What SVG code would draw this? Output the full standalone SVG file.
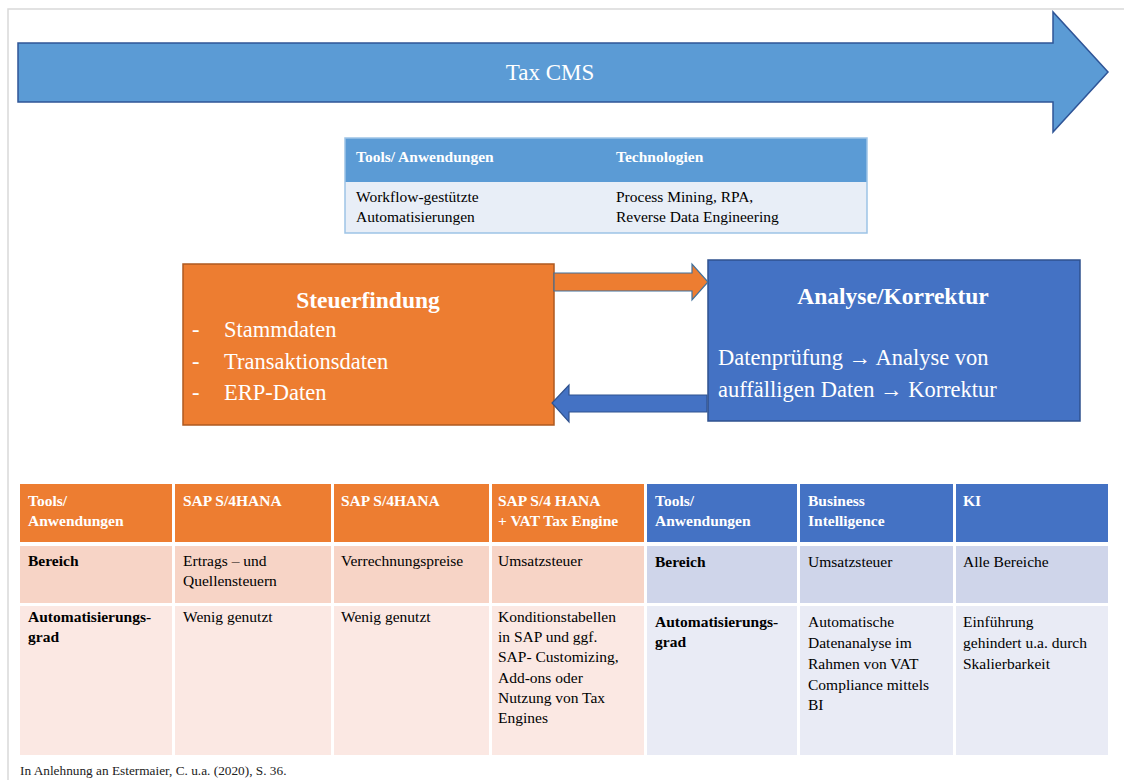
<svg xmlns="http://www.w3.org/2000/svg" width="1124" height="780" viewBox="0 0 1124 780" font-family="Liberation Serif, DejaVu Serif, serif">
<style>
text{font-family:'Liberation Serif','Times New Roman',serif;}
.w{fill:#ffffff;}
.b{font-weight:bold;}
.k{fill:#000000;}
.t14{font-size:15.5px;}
.oh{fill:#ed7d31;}
.o2{fill:#f7d4c6;}
.o3{fill:#fbe8e3;}
.bh{fill:#4472c4;}
.b2{fill:#cfd5ea;}
.b3{fill:#e9ebf5;}
</style>
<rect x="0" y="0" width="1124" height="780" fill="#ffffff"/>
<rect x="8" y="9" width="1130" height="800" fill="none" stroke="#d9d9d9" stroke-width="1.5"/>

<g id="taxcms">
<polygon points="18,43 1053,43 1053,12 1108,72 1053,132 1053,102 18,102" fill="#5b9bd5" stroke="#2f5597" stroke-width="1.5"/>
<text x="550" y="80" text-anchor="middle" class="w" font-size="23">Tax CMS</text>
</g>

<g id="top-table">
<rect x="345" y="138" width="522" height="44" fill="#5b9bd5"/>
<rect x="345" y="182" width="522" height="51" fill="#e8eef7"/>
<rect x="345" y="138" width="522" height="95" fill="none" stroke="#9dc3e6" stroke-width="1.5"/>
<text x="356" y="162" class="w b t14">Tools/ Anwendungen</text>
<text x="616" y="162" class="w b t14">Technologien</text>
<text x="356" y="202" class="k t14">Workflow-gestützte</text>
<text x="356" y="222" class="k t14">Automatisierungen</text>
<text x="616" y="202" class="k t14">Process Mining, RPA,</text>
<text x="616" y="222" class="k t14">Reverse Data Engineering</text>
</g>

<g id="steuerfindung">
<rect x="183" y="264" width="371" height="161" fill="#ed7d31" stroke="#ae5a21" stroke-width="1.5"/>
<text x="368" y="308" text-anchor="middle" class="w b" font-size="23.5">Steuerfindung</text>
<text x="192" y="337" class="w" font-size="22.5">-</text>
<text x="224" y="337" class="w" font-size="22.5">Stammdaten</text>
<text x="192" y="369" class="w" font-size="22.5">-</text>
<text x="224" y="369" class="w" font-size="22.5">Transaktionsdaten</text>
<text x="192" y="400" class="w" font-size="22.5">-</text>
<text x="224" y="400" class="w" font-size="22.5">ERP-Daten</text>
</g>

<g id="analyse">
<rect x="708" y="260" width="372" height="161" fill="#4472c4" stroke="#2f528f" stroke-width="1.5"/>
<text x="893" y="304" text-anchor="middle" class="w b" font-size="23.5">Analyse/Korrektur</text>
<text x="718" y="365" class="w" font-size="22.5">Datenprüfung <tspan font-weight="bold">→</tspan> Analyse von</text>
<text x="718" y="397" class="w" font-size="22.5">auffälligen Daten <tspan font-weight="bold">→</tspan> Korrektur</text>
</g>

<g id="connectors">
<polygon points="554,273 692,273 692,264 708,282 692,300 692,291 554,291" fill="#ed7d31" stroke="#41719c" stroke-width="1.2"/>
<polygon points="707,395 569,395 569,385 552,403 569,422 569,412 707,412" fill="#4472c4" stroke="#2f528f" stroke-width="1.2"/>
</g>

<g id="bottom-table">
<rect x="20" y="484" width="152" height="58" class="oh"/>
<rect x="175" y="484" width="156" height="58" class="oh"/>
<rect x="334" y="484" width="155" height="58" class="oh"/>
<rect x="492" y="484" width="152" height="58" class="oh"/>
<rect x="20" y="546" width="152" height="57" class="o2"/>
<rect x="175" y="546" width="156" height="57" class="o2"/>
<rect x="334" y="546" width="155" height="57" class="o2"/>
<rect x="492" y="546" width="152" height="57" class="o2"/>
<rect x="20" y="606" width="152" height="149" class="o3"/>
<rect x="175" y="606" width="156" height="149" class="o3"/>
<rect x="334" y="606" width="155" height="149" class="o3"/>
<rect x="492" y="606" width="152" height="149" class="o3"/>

<rect x="647" y="484" width="150" height="58" class="bh"/>
<rect x="800" y="484" width="153" height="58" class="bh"/>
<rect x="956" y="484" width="152" height="58" class="bh"/>
<rect x="647" y="546" width="150" height="57" class="b2"/>
<rect x="800" y="546" width="153" height="57" class="b2"/>
<rect x="956" y="546" width="152" height="57" class="b2"/>
<rect x="647" y="606" width="150" height="149" class="b3"/>
<rect x="800" y="606" width="153" height="149" class="b3"/>
<rect x="956" y="606" width="152" height="149" class="b3"/>

<text x="28" y="506" class="w b t14">Tools/</text>
<text x="28" y="526" class="w b t14">Anwendungen</text>
<text x="183" y="506" class="w b t14">SAP S/4HANA</text>
<text x="341" y="506" class="w b t14">SAP S/4HANA</text>
<text x="498" y="506" class="w b t14">SAP S/4 HANA</text>
<text x="498" y="526" class="w b t14">+ VAT Tax Engine</text>

<text x="28" y="566" class="k b t14">Bereich</text>
<text x="183" y="566" class="k t14">Ertrags – und</text>
<text x="183" y="586" class="k t14">Quellensteuern</text>
<text x="341" y="566" class="k t14">Verrechnungspreise</text>
<text x="498" y="566" class="k t14">Umsatzsteuer</text>

<text x="28" y="622" class="k b t14">Automatisierungs-</text>
<text x="28" y="642" class="k b t14">grad</text>
<text x="183" y="622" class="k t14">Wenig genutzt</text>
<text x="341" y="622" class="k t14">Wenig genutzt</text>
<text x="498" y="622" class="k t14">Konditionstabellen</text>
<text x="498" y="642" class="k t14">in SAP und ggf.</text>
<text x="498" y="662" class="k t14">SAP- Customizing,</text>
<text x="498" y="683" class="k t14">Add-ons oder</text>
<text x="498" y="703" class="k t14">Nutzung von Tax</text>
<text x="498" y="723" class="k t14">Engines</text>

<text x="655" y="506" class="w b t14">Tools/</text>
<text x="655" y="526" class="w b t14">Anwendungen</text>
<text x="808" y="506" class="w b t14">Business</text>
<text x="808" y="526" class="w b t14">Intelligence</text>
<text x="963" y="506" class="w b t14">KI</text>

<text x="655" y="567" class="k b t14">Bereich</text>
<text x="808" y="567" class="k t14">Umsatzsteuer</text>
<text x="963" y="567" class="k t14">Alle Bereiche</text>

<text x="655" y="627" class="k b t14">Automatisierungs-</text>
<text x="655" y="647" class="k b t14">grad</text>
<text x="808" y="627" class="k t14">Automatische</text>
<text x="808" y="648" class="k t14">Datenanalyse im</text>
<text x="808" y="669" class="k t14">Rahmen von VAT</text>
<text x="808" y="690" class="k t14">Compliance mittels</text>
<text x="808" y="710" class="k t14">BI</text>
<text x="963" y="627" class="k t14">Einführung</text>
<text x="963" y="648" class="k t14">gehindert u.a. durch</text>
<text x="963" y="669" class="k t14">Skalierbarkeit</text>
</g>

<text x="20" y="775" fill="#222222" font-size="13.3">In Anlehnung an Estermaier, C. u.a. (2020), S. 36.</text>
</svg>
